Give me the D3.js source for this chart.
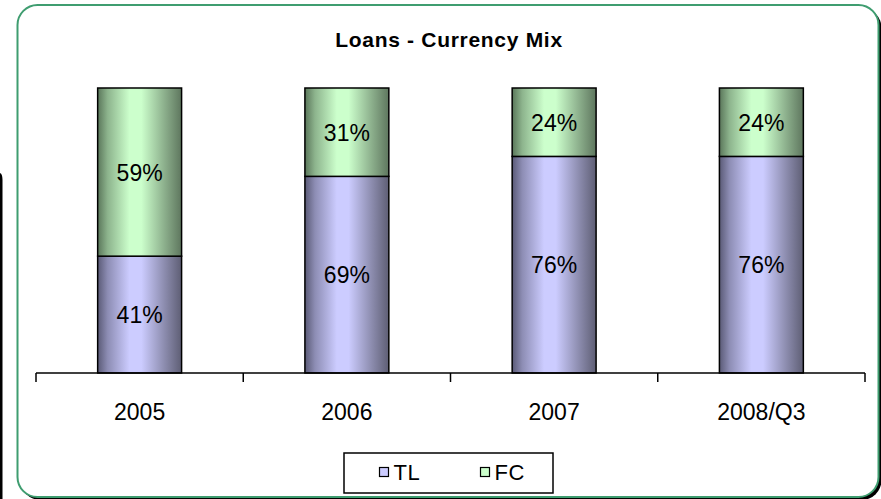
<!DOCTYPE html>
<html>
<head>
<meta charset="utf-8">
<script src="https://cdn.jsdelivr.net/npm/d3@7"></script>
<style>
  html, body { margin: 0; padding: 0; background: #ffffff; }
  svg { display: block; font-family: "Liberation Sans", Arial, sans-serif; }
</style>
</head>
<body>
<svg id="chart" width="881" height="499"></svg>
<script>
// Loan portfolio currency split per period (percent)
const categories = ["2005", "2006", "2007", "2008/Q3"];
const tlShare = [41, 69, 76, 76];
const fcShare = [59, 31, 24, 24];
const seriesNames = ["TL", "FC"];
const chartTitle = "Loans - Currency Mix";

const W = 881, H = 499;
const svg = d3.select("#chart");
const defs = svg.append("defs");

// Horizontal "cylinder" shading for each series
function shade(id, dark, light, dark2) {
  const g = defs.append("linearGradient").attr("id", id)
    .attr("x1", "0%").attr("x2", "100%").attr("y1", "0%").attr("y2", "0%");
  [[0, dark], [0.12, d3.interpolateRgb(dark, light)(0.45)], [0.38, light],
   [0.52, light], [0.78, d3.interpolateRgb(dark2, light)(0.45)], [1, dark2]]
    .forEach(([o, c]) => g.append("stop").attr("offset", o).attr("stop-color", c));
}
shade("gTL", "#5a5a76", "#ccccff", "#5e5e74");
shade("gFC", "#5a765a", "#ccffcc", "#5e765e");

// Slide frame: stray edge on the left, shadowed rounded panel
svg.append("path")
  .attr("d", "M0,173 Q2.5,174 2.5,180 L2.5,499 L0,499 Z")
  .attr("fill", "#000");
svg.append("rect")
  .attr("x", 20.5).attr("y", 8).attr("width", 861).attr("height", 492)
  .attr("rx", 20).attr("fill", "#000");
svg.append("rect")
  .attr("x", 17.5).attr("y", 5).attr("width", 861).attr("height", 492)
  .attr("rx", 20).attr("fill", "#fff")
  .attr("stroke", "#3f9d70").attr("stroke-width", 2);

// Title
svg.append("text")
  .attr("x", 449).attr("y", 47)
  .attr("text-anchor", "middle")
  .attr("font-size", 21).attr("font-weight", "bold")
  .attr("letter-spacing", 0.7)
  .text(chartTitle);

// Scales
const x = d3.scaleBand().domain(categories).range([36, 865]).padding(0);
const y = d3.scaleLinear().domain([0, 100]).range([373, 88]);
const barW = x.bandwidth() * 0.405;

const rows = categories.map((c, i) => ({ cat: c, tl: tlShare[i], fc: fcShare[i] }));
const stack = d3.stack().keys(["tl", "fc"])(rows);
const fills = { tl: "url(#gTL)", fc: "url(#gFC)" };

const layers = svg.append("g").selectAll("g").data(stack).join("g")
  .attr("fill", d => fills[d.key]);

layers.selectAll("rect").data(d => d).join("rect")
  .attr("x", d => x(d.data.cat) + (x.bandwidth() - barW) / 2)
  .attr("width", barW)
  .attr("y", d => y(d[1]))
  .attr("height", d => y(d[0]) - y(d[1]))
  .attr("stroke", "#000").attr("stroke-width", 1.5);

// Segment value labels
layers.selectAll("text").data(d => d.map(v => ({ v, key: d.key }))).join("text")
  .attr("x", d => x(d.v.data.cat) + x.bandwidth() / 2)
  .attr("y", d => (y(d.v[0]) + y(d.v[1])) / 2 + 8.5)
  .attr("text-anchor", "middle")
  .attr("font-size", 23)
  .attr("fill", "#000")
  .text(d => d.v.data[d.key] + "%");

// Category axis with ticks on band boundaries
const axis = svg.append("g").attr("stroke", "#000").attr("stroke-width", 1.5);
axis.append("line").attr("x1", 36).attr("x2", 865).attr("y1", 373).attr("y2", 373);
const bounds = categories.map(c => x(c)).concat([x.range()[1]]);
axis.selectAll("line.tick").data(bounds).join("line").attr("class", "tick")
  .attr("x1", d => d).attr("x2", d => d).attr("y1", 373).attr("y2", 382);

svg.append("g").selectAll("text").data(categories).join("text")
  .attr("x", d => x(d) + x.bandwidth() / 2)
  .attr("y", 419.5)
  .attr("text-anchor", "middle")
  .attr("font-size", 23)
  .text(d => d);

// Legend
const legend = svg.append("g");
legend.append("rect")
  .attr("x", 344).attr("y", 453).attr("width", 209).attr("height", 40)
  .attr("fill", "#fff").attr("stroke", "#000").attr("stroke-width", 1.5);
const legendFill = ["#ccccff", "#ccffcc"];
const legendX = [379.5, 480.5];
seriesNames.forEach((name, i) => {
  legend.append("rect")
    .attr("x", legendX[i]).attr("y", 467.5).attr("width", 9).attr("height", 9)
    .attr("fill", legendFill[i]).attr("stroke", "#000").attr("stroke-width", 1.2);
  legend.append("text")
    .attr("x", legendX[i] + 14).attr("y", 480)
    .attr("font-size", 22)
    .attr("letter-spacing", 0.5)
    .text(name);
});
</script>
</body>
</html>
